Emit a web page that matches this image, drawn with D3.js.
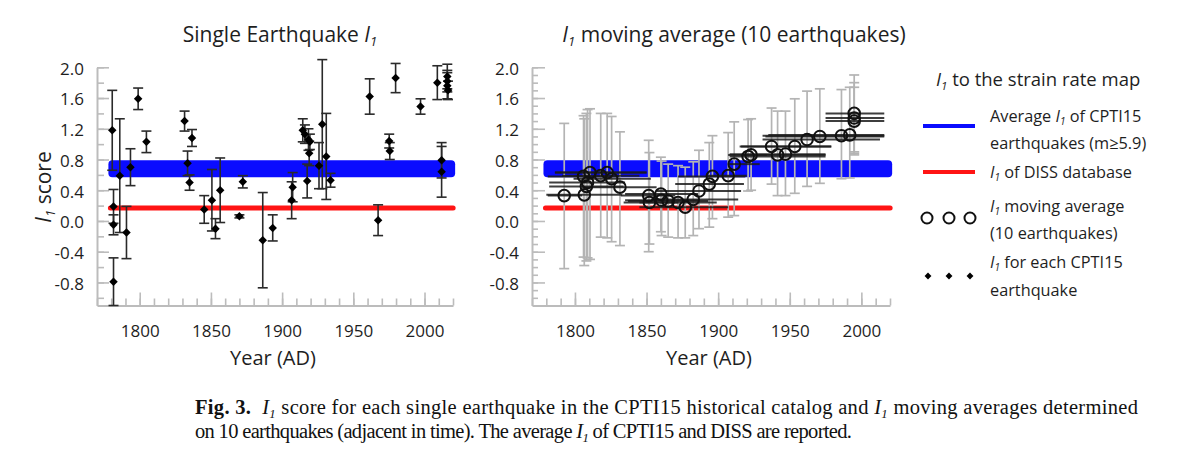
<!DOCTYPE html>
<html><head><meta charset="utf-8">
<script src="https://cdn.jsdelivr.net/npm/d3@7"></script>
<style>
body{margin:0;background:#fff;}
svg{display:block;}
</style></head><body>
<svg id="c" width="1179" height="459"></svg>
<script>
// ---------- data ----------
// Single earthquakes (left panel)
const eqYears  = [1780.7,1781.6,1781.6,1781.6,1786.0,1790.7,1793.5,1798.9,1804.7,1831.5,1833.6,1835.0,1836.7,1845.3,1850.7,1853.2,1856.5,1870.0,1872.4,1886.4,1893.4,1906.7,1907.4,1914.5,1916.0,1917.6,1918.5,1919.0,1919.5,1925.9,1928.2,1931.0,1934.0,1961.5,1967.4,1975.2,1975.6,1979.7,1997.2,2009.0,2012.0,2012.0,2016.0,2016.0,2016.0,2016.5];
const eqScores = [1.18,0.19,-0.05,-0.79,0.59,-0.15,0.70,1.59,1.03,1.30,0.75,0.50,1.08,0.15,0.27,-0.10,0.40,0.06,0.51,-0.25,-0.09,0.27,0.44,1.18,1.13,0.52,1.06,0.88,1.03,0.72,1.26,0.84,0.53,1.62,0.01,1.04,0.91,1.86,1.49,1.80,0.79,0.64,1.88,1.82,1.76,1.70];
const eqErrors = [0.52,0.22,0.13,0.31,0.74,0.34,0.24,0.14,0.14,0.13,0.16,0.10,0.11,0.18,0.40,0.13,0.42,0.02,0.08,0.62,0.17,0.24,0.19,0.15,0.12,0.22,0.14,0.16,0.10,0.30,0.84,0.56,0.09,0.23,0.20,0.09,0.11,0.19,0.10,0.22,0.23,0.33,0.16,0.14,0.17,0.12];

// Moving averages over 10 earthquakes (right panel)
const maYears   = [1792.5,1806.0,1806.5,1808.0,1808.8,1810.5,1818.0,1822.5,1825.6,1831.4,1851.5,1852.0,1860.0,1860.5,1865.1,1872.0,1877.0,1882.6,1886.6,1893.8,1896.0,1907.0,1911.2,1920.9,1923.0,1937.3,1941.5,1947.0,1953.5,1962.1,1971.0,1986.1,1991.9,1995.0,1995.0,1995.0];
const maScores  = [0.33,0.58,0.34,0.45,0.50,0.63,0.59,0.63,0.55,0.44,0.33,0.24,0.35,0.27,0.26,0.24,0.18,0.28,0.39,0.48,0.58,0.59,0.74,0.84,0.86,0.97,0.86,0.87,0.97,1.06,1.10,1.11,1.12,1.40,1.34,1.30];
const maYearLo  = [1781,1781,1780,1782,1782,1786,1791,1786,1799,1805,1832,1834,1835,1835,1837,1845,1845,1853,1857,1870,1872,1893,1907,1908,1916,1915,1907,1908,1916,1931,1933,1931,1935,1975,1975,1975];
const maYearHi  = [1805,1831,1833,1834,1835,1850,1845,1850,1853,1857,1870,1872,1886,1886,1893,1899,1907,1914,1916,1918,1919,1920,1929,1975,1934,1979,1975,1975,1979,2013,2016,2016,2016,2016,2016,2016];
const maScoreLo = [-0.62,-0.47,-0.58,-0.52,-0.48,-0.50,-0.21,-0.22,-0.27,-0.32,-0.40,-0.30,-0.14,-0.19,-0.21,-0.22,-0.22,-0.19,-0.10,-0.08,0.03,0.05,0.07,0.39,0.40,0.48,0.33,0.33,0.36,0.45,0.49,0.55,0.56,0.90,0.88,0.86];
const maScoreHi = [1.27,1.37,1.33,1.40,1.45,1.46,1.40,1.40,1.36,1.16,1.05,0.89,0.83,0.78,0.74,0.72,0.70,0.77,0.92,1.02,1.11,1.15,1.29,1.32,1.33,1.47,1.43,1.43,1.59,1.69,1.72,1.71,1.74,1.90,1.80,1.74];

// reference levels
const cptiBand  = [0.57, 0.79];   // average I1 of CPTI15 earthquakes (band)
const dissScore = 0.17;           // I1 of DISS database
const refYears  = [1778, 2021.5];

// ticks
const xMajorTicks = [1800, 1850, 1900, 1950, 2000];
const xMinorTicks = [1770,1780,1790,1800,1810,1820,1830,1840,1850,1860,1870,1880,1890,1900,1910,1920,1930,1940,1950,1960,1970,1980,1990,2000,2010,2020];
const yMajorTicks = [2.0, 1.6, 1.2, 0.8, 0.4, 0.0, -0.4, -0.8];
const yTickLabels = ["2.0","1.6","1.2","0.8","0.4","0.0","-0.4","-0.8"];
const yMinorLeft  = [-1.0,-0.8,-0.6,-0.4,-0.2,0,0.2,0.4,0.6,0.8,1.0,1.2,1.4,1.6,1.8,2.0];
const yMinorRight = [-1.0,-0.9,-0.8,-0.7,-0.6,-0.5,-0.4,-0.3,-0.2,-0.1,0,0.1,0.2,0.3,0.4,0.5,0.6,0.7,0.8,0.9,1.0,1.1,1.2,1.3,1.4,1.5,1.6,1.7,1.8,1.9,2.0];

// ---------- drawing ----------
const FONT = "'Open Sans', sans-serif";
const BLUE = "#0a0cff", RED = "#ff1414", AXIS = "#bcbcbc", TXT = "#1e1e1e";
const svg = d3.select("#c");

const yDomain = [-1.1, 2.0], yRange = [305.5, 67.3];
const xL = d3.scaleLinear().domain([1770, 2020]).range([97, 453]);
const yL = d3.scaleLinear().domain(yDomain).range(yRange);
const xR = d3.scaleLinear().domain([1770, 2020]).range([532, 890]);
const yR = d3.scaleLinear().domain(yDomain).range(yRange);

// rich text helper: parts [{t, i, b, sub}]
function rich(sel, parts) {
  let shifted = false;
  parts.forEach(p => {
    const ts = sel.append("tspan").text(p.t);
    if (p.i) ts.attr("font-style", "italic");
    if (p.b) ts.attr("font-weight", "bold");
    if (p.sub) { ts.attr("font-size", "0.62em").attr("dy", "0.32em"); shifted = true; }
    else if (shifted) { ts.attr("dy", "-0.2em"); shifted = false; }
  });
  return sel;
}

function drawAxes(x, y, yMinor, minorLen, majorLen) {
  const g = svg.append("g");
  const x0 = x.range()[0], y0 = y.range()[0];
  const ay = g.append("g").attr("transform", `translate(${x0},0)`);
  ay.call(d3.axisLeft(y).tickValues(yMinor).tickSize(-minorLen).tickSizeOuter(0).tickFormat(""));
  ay.append("g").call(d3.axisLeft(y).tickValues(yMajorTicks).tickSize(-majorLen).tickSizeOuter(0)
      .tickPadding(13).tickFormat((d, i) => yTickLabels[i]))
    .call(s => s.select(".domain").remove())
    .selectAll("text").attr("dy", "0.4em");
  const ax = g.append("g").attr("transform", `translate(0,${y0})`);
  ax.call(d3.axisBottom(x).tickValues(xMinorTicks).tickSize(-7).tickSizeOuter(0).tickFormat(""));
  ax.append("g").call(d3.axisBottom(x).tickValues(xMajorTicks).tickSize(-13).tickSizeOuter(0)
      .tickPadding(19).tickFormat(d3.format("d")))
    .call(s => s.select(".domain").remove());
  g.selectAll(".domain").attr("stroke", AXIS).attr("stroke-width", 2);
  g.selectAll(".tick line").attr("stroke", AXIS).attr("stroke-width", 1.6);
  g.selectAll("text").attr("fill", TXT).attr("font-family", FONT).attr("font-size", 17);
  // axis title
  svg.append("text").attr("x", (x.range()[0] + x.range()[1]) / 2 - 2).attr("y", 365)
    .attr("text-anchor", "middle").attr("font-family", FONT).attr("font-size", 20).attr("fill", TXT)
    .text("Year (AD)");
}

function drawRefs(x, y) {
  const g = svg.append("g");
  g.append("rect").attr("x", x(refYears[0])).attr("width", x(refYears[1]) - x(refYears[0]))
    .attr("y", y(cptiBand[1])).attr("height", y(cptiBand[0]) - y(cptiBand[1]))
    .attr("rx", 4).attr("fill", BLUE);
  g.append("line").attr("x1", x(refYears[0]) + 2).attr("x2", x(refYears[1]) - 2)
    .attr("y1", y(dissScore)).attr("y2", y(dissScore))
    .attr("stroke", RED).attr("stroke-width", 5).attr("stroke-linecap", "round");
}

// ---- left panel ----
drawAxes(xL, yL, yMinorLeft, 7, 12);
drawRefs(xL, yL);
const eq = eqYears.map((yr, i) => ({yr, v: eqScores[i], e: eqErrors[i]}));
const gL = svg.append("g").attr("stroke", "#2a2a2a").attr("stroke-width", 1.6);
const capW = 5;
eq.forEach(d => {
  const cx = xL(d.yr), top = yL(d.v + d.e), bot = yL(d.v - d.e);
  gL.append("line").attr("x1", cx).attr("x2", cx).attr("y1", top).attr("y2", bot);
  gL.append("line").attr("x1", cx - capW).attr("x2", cx + capW).attr("y1", top).attr("y2", top);
  gL.append("line").attr("x1", cx - capW).attr("x2", cx + capW).attr("y1", bot).attr("y2", bot);
});
const diamond = d3.symbol().type(d3.symbolDiamond2 || d3.symbolDiamond).size(46);
svg.append("g").selectAll("path").data(eq).join("path")
  .attr("d", diamond).attr("transform", d => `translate(${xL(d.yr)},${yL(d.v)})`)
  .attr("fill", "#000");

// ---- right panel ----
drawAxes(xR, yR, yMinorRight, 6, 13);
drawRefs(xR, yR);
const ma = maYears.map((yr, i) => ({yr, v: maScores[i], lo: maYearLo[i], hi: maYearHi[i], vlo: maScoreLo[i], vhi: maScoreHi[i]}));
const gE = svg.append("g").attr("stroke", "#b4b4b4").attr("stroke-width", 1.7);
ma.forEach(d => {
  const cx = xR(d.yr), top = yR(d.vhi), bot = yR(d.vlo);
  gE.append("line").attr("x1", cx).attr("x2", cx).attr("y1", top).attr("y2", bot);
  gE.append("line").attr("x1", cx - 5).attr("x2", cx + 5).attr("y1", top).attr("y2", top);
  gE.append("line").attr("x1", cx - 5).attr("x2", cx + 5).attr("y1", bot).attr("y2", bot);
});
svg.append("g").selectAll("line").data(ma).join("line")
  .attr("x1", d => xR(d.lo)).attr("x2", d => xR(d.hi))
  .attr("y1", d => yR(d.v)).attr("y2", d => yR(d.v))
  .attr("stroke", "#1c1c1c").attr("stroke-width", 2).attr("stroke-opacity", 0.85);
svg.append("g").selectAll("circle").data(ma).join("circle")
  .attr("cx", d => xR(d.yr)).attr("cy", d => yR(d.v)).attr("r", 5.8)
  .attr("fill", "none").attr("stroke", "#111").attr("stroke-width", 2);

// ---- titles ----
rich(svg.append("text").attr("x", 280).attr("y", 42).attr("text-anchor", "middle")
  .attr("font-family", FONT).attr("font-size", 21).attr("fill", TXT),
  [{t: "Single Earthquake "}, {t: "I", i: true}, {t: "1", i: true, sub: true}]);
rich(svg.append("text").attr("x", 734).attr("y", 42).attr("text-anchor", "middle")
  .attr("font-family", FONT).attr("font-size", 21).attr("fill", TXT),
  [{t: "I", i: true}, {t: "1", i: true, sub: true}, {t: " moving average (10 earthquakes)"}]);
rich(svg.append("text").attr("transform", "translate(51,187) rotate(-90)").attr("text-anchor", "middle")
  .attr("font-family", FONT).attr("font-size", 21).attr("fill", TXT),
  [{t: "I", i: true}, {t: "1", i: true, sub: true}, {t: " score"}]);

// ---- legend ----
const lg = svg.append("g").attr("font-family", FONT).attr("fill", TXT);
rich(lg.append("text").attr("x", 936).attr("y", 86).attr("font-size", 18.5),
  [{t: "I", i: true}, {t: "1", i: true, sub: true}, {t: " to the strain rate map"}]);
lg.append("line").attr("x1", 923).attr("x2", 975).attr("y1", 126).attr("y2", 126).attr("stroke", BLUE).attr("stroke-width", 4);
lg.append("line").attr("x1", 923).attr("x2", 975).attr("y1", 172).attr("y2", 172).attr("stroke", RED).attr("stroke-width", 4);
[927, 949, 970].forEach(cx => lg.append("circle").attr("cx", cx).attr("cy", 218).attr("r", 5.5)
  .attr("fill", "none").attr("stroke", "#111").attr("stroke-width", 2));
[928, 949, 970].forEach(cx => lg.append("path").attr("d", d3.symbol().type(d3.symbolDiamond2 || d3.symbolDiamond).size(30)())
  .attr("transform", `translate(${cx},276)`).attr("fill", "#000"));
const LX = 990, LF = 16.3;
rich(lg.append("text").attr("x", LX).attr("y", 122).attr("font-size", LF),
  [{t: "Average "}, {t: "I", i: true}, {t: "1", i: true, sub: true}, {t: " of CPTI15"}]);
lg.append("text").attr("x", LX).attr("y", 149).attr("font-size", LF).text("earthquakes (m\u22655.9)");
rich(lg.append("text").attr("x", LX).attr("y", 178).attr("font-size", LF),
  [{t: "I", i: true}, {t: "1", i: true, sub: true}, {t: " of DISS database"}]);
rich(lg.append("text").attr("x", LX).attr("y", 212).attr("font-size", LF),
  [{t: "I", i: true}, {t: "1", i: true, sub: true}, {t: " moving average"}]);
lg.append("text").attr("x", LX).attr("y", 239).attr("font-size", LF).text("(10 earthquakes)");
rich(lg.append("text").attr("x", LX).attr("y", 268).attr("font-size", LF),
  [{t: "I", i: true}, {t: "1", i: true, sub: true}, {t: " for each CPTI15"}]);
lg.append("text").attr("x", LX).attr("y", 296).attr("font-size", LF).text("earthquake");

// ---- caption ----
const cap = svg.append("g").attr("font-family", "'Liberation Serif', serif").attr("font-size", 20.5).attr("fill", "#111");
rich(cap.append("text").attr("x", 195).attr("y", 414).attr("textLength", 943).attr("lengthAdjust", "spacing"),
  [{t: "Fig. 3.", b: true}, {t: "\u00a0\u00a0"}, {t: "I", i: true}, {t: "1", i: true, sub: true},
   {t: " score for each single earthquake in the CPTI15 historical catalog and "}, {t: "I", i: true}, {t: "1", i: true, sub: true},
   {t: " moving averages determined"}]);
rich(cap.append("text").attr("x", 195).attr("y", 438).attr("textLength", 657).attr("lengthAdjust", "spacing"),
  [{t: "on 10 earthquakes (adjacent in time). The average "}, {t: "I", i: true}, {t: "1", i: true, sub: true},
   {t: " of CPTI15 and DISS are reported."}]);
</script>
</body></html>
